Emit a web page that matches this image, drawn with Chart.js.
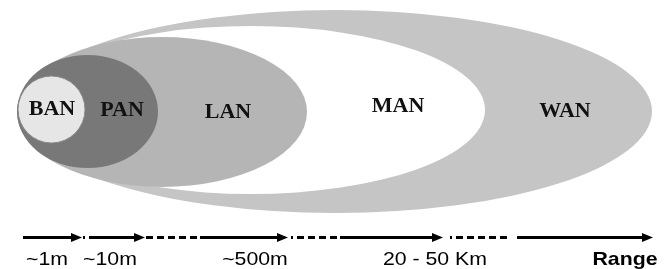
<!DOCTYPE html>
<html>
<head>
<meta charset="utf-8">
<script src="https://cdn.jsdelivr.net/npm/chart.js@4.4.0/dist/chart.umd.min.js"></script>
<style>
  html, body { margin: 0; padding: 0; background: #fff; }
  #wrap { width: 671px; height: 269px; }
</style>
</head>
<body>
<div id="wrap"><canvas id="networkChart" width="671" height="269"></canvas></div>
<script>
// Network types, drawn back to front (outermost first)
const networkNames = ['WAN', 'MAN', 'LAN', 'PAN', 'BAN'];
const centerX = [335, 251, 162, 87.5, 51.5];
const centerY = [111.5, 110, 112, 111.5, 109.5];
const radiusX = [317, 234, 145, 70.5, 33.5];
const radiusY = [101.5, 84, 75, 56.5, 33.5];
const fillColors = ['#c5c5c5', '#ffffff', '#b5b5b5', '#787878', '#e6e6e6'];

// where each name sits inside its ellipse
const labelX = [565, 398, 228, 122, 52];
const labelY = [111, 106, 112, 110, 109];

// range axis along the bottom
const axisY = 237.5;
const segStart = [23, 83, 96, 146, 200, 291, 340, 450, 517];
const segEnd = [82, 96, 145, 200, 288, 340, 443, 507, 653];
const segStyle = ['solid', 'dashdot', 'solid', 'dash', 'solid', 'dashdot', 'solid', 'dashdot', 'solid'];

// tick labels under the axis
const rangeLabels = ['~1m', '~10m', '~500m', '20 - 50 Km', 'Range'];
const rangeLabelX = [47, 110, 255, 435, 625];
const rangeLabelY = 260;

const ellipsePlugin = {
    id: 'ellipses',
    beforeDatasetsDraw(chart) {
        const ctx = chart.ctx;
        const x = chart.scales.x;
        const y = chart.scales.y;

        // Nested coverage ellipses
        networkNames.forEach((name, i) => {
            const cx = x.getPixelForValue(centerX[i]);
            const cy = y.getPixelForValue(centerY[i]);
            const rx = Math.abs(x.getPixelForValue(centerX[i] + radiusX[i]) - cx);
            const ry = Math.abs(y.getPixelForValue(centerY[i] + radiusY[i]) - cy);
            ctx.save();
            ctx.beginPath();
            ctx.ellipse(cx, cy, rx, ry, 0, 0, Math.PI * 2);
            ctx.fillStyle = fillColors[i];
            ctx.fill();
            if (name === 'BAN') {
                ctx.strokeStyle = '#8a8a8a';
                ctx.lineWidth = 1;
                ctx.stroke();
            }
            ctx.restore();
        });

        // Range axis with arrows
        const ay = y.getPixelForValue(axisY);
        segStart.forEach((s, i) => {
            const x0 = x.getPixelForValue(s);
            const x1 = x.getPixelForValue(segEnd[i]);
            ctx.save();
            ctx.strokeStyle = '#000';
            ctx.lineWidth = 3;
            if (segStyle[i] !== 'solid') {
                let dash = [];
                if (segStyle[i] === 'dashdot') dash.push(2, 4);
                for (let k = 0; k < 12; k++) dash.push(7, 4);
                dash.push(0, 400);
                ctx.setLineDash(dash);
                ctx.beginPath();
                ctx.moveTo(x0, ay);
                ctx.lineTo(x1, ay);
                ctx.stroke();
            } else {
                ctx.beginPath();
                ctx.moveTo(x0, ay);
                ctx.lineTo(x1 - 8, ay);
                ctx.stroke();
                // arrow head
                ctx.fillStyle = '#000';
                ctx.beginPath();
                ctx.moveTo(x1, ay);
                ctx.lineTo(x1 - 11, ay - 4.5);
                ctx.lineTo(x1 - 11, ay + 4.5);
                ctx.closePath();
                ctx.fill();
            }
            ctx.restore();
        });
    },
    afterDatasetsDraw(chart) {
        const ctx = chart.ctx;
        const x = chart.scales.x;
        const y = chart.scales.y;

        ctx.save();
        ctx.fillStyle = '#111';
        ctx.textAlign = 'center';
        ctx.textBaseline = 'middle';
        ctx.font = 'bold 22px "Liberation Serif", "Times New Roman", serif';
        networkNames.forEach((name, i) => {
            ctx.fillText(name, x.getPixelForValue(labelX[i]), y.getPixelForValue(labelY[i]));
        });

        ctx.fillStyle = '#000';
        rangeLabels.forEach((txt, i) => {
            const bold = txt === 'Range';
            ctx.font = (bold ? 'bold ' : '') + '19px "Liberation Sans", Arial, sans-serif';
            const px = x.getPixelForValue(rangeLabelX[i]);
            const py = y.getPixelForValue(rangeLabelY);
            ctx.save();
            ctx.translate(px, py);
            ctx.scale(1.12, 1);
            ctx.fillText(txt, 0, 0);
            ctx.restore();
        });
        ctx.restore();
    }
};

const ctx = document.getElementById('networkChart').getContext('2d');
const chart = new Chart(ctx, {
    type: 'scatter',
    data: {
        datasets: [{
            label: 'Networks',
            data: networkNames.map((n, i) => ({ x: labelX[i], y: labelY[i] })),
            pointRadius: 0
        }]
    },
    options: {
        responsive: false,
        animation: false,
        layout: { padding: 0 },
        plugins: {
            legend: { display: false },
            tooltip: { enabled: false }
        },
        scales: {
            x: { type: 'linear', min: 0, max: 671, display: false },
            y: { type: 'linear', min: 0, max: 269, reverse: true, display: false }
        }
    },
    plugins: [ellipsePlugin]
});
</script>
</body>
</html>
